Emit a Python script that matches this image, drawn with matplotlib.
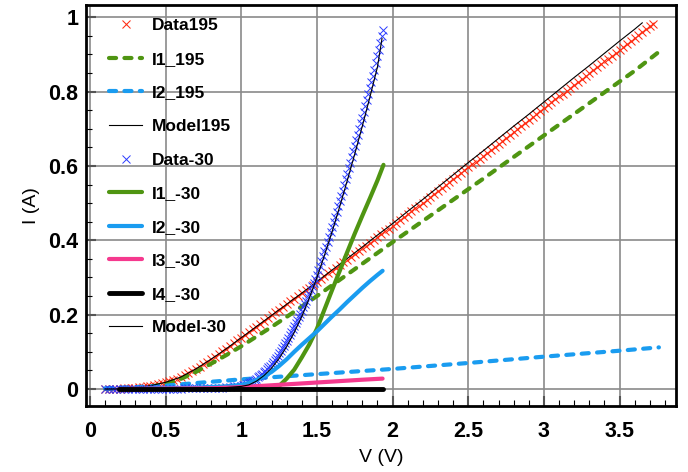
import matplotlib
matplotlib.use("Agg")
import matplotlib.pyplot as plt
from matplotlib.ticker import MultipleLocator

plt.rcParams['font.family'] = ['Liberation Sans', 'DejaVu Sans']

# ---------------- data ----------------
v_data195 = [0.100, 0.125, 0.150, 0.175, 0.200, 0.225, 0.250, 0.275, 0.300, 0.325, 0.350, 0.375,
             0.400, 0.425, 0.450, 0.475, 0.500, 0.525, 0.550, 0.575, 0.600, 0.625, 0.650, 0.675,
             0.700, 0.725, 0.750, 0.775, 0.800, 0.825, 0.850, 0.875, 0.900, 0.925, 0.950, 0.975,
             1.000, 1.025, 1.050, 1.075, 1.100, 1.125, 1.150, 1.175, 1.200, 1.225, 1.250, 1.275,
             1.300, 1.325, 1.350, 1.375, 1.400, 1.425, 1.450, 1.475, 1.500, 1.525, 1.550, 1.575,
             1.600, 1.625, 1.650, 1.675, 1.700, 1.725, 1.750, 1.775, 1.800, 1.825, 1.850, 1.875,
             1.900, 1.925, 1.950, 1.975, 2.000, 2.025, 2.050, 2.075, 2.100, 2.125, 2.150, 2.175,
             2.200, 2.225, 2.250, 2.275, 2.300, 2.325, 2.350, 2.375, 2.400, 2.425, 2.450, 2.475,
             2.500, 2.525, 2.550, 2.575, 2.600, 2.625, 2.650, 2.675, 2.700, 2.725, 2.750, 2.775,
             2.800, 2.825, 2.850, 2.875, 2.900, 2.925, 2.950, 2.975, 3.000, 3.025, 3.050, 3.075,
             3.100, 3.125, 3.150, 3.175, 3.200, 3.225, 3.250, 3.275, 3.300, 3.325, 3.350, 3.375,
             3.400, 3.425, 3.450, 3.475, 3.500, 3.525, 3.550, 3.575, 3.600, 3.625, 3.650, 3.675,
             3.700, 3.720]
i_data195 = [0.000, 0.000, 0.000, 0.001, 0.001, 0.002, 0.002, 0.003, 0.004, 0.005, 0.006, 0.008,
             0.009, 0.011, 0.013, 0.015, 0.018, 0.021, 0.024, 0.028, 0.032, 0.037, 0.042, 0.048,
             0.054, 0.060, 0.067, 0.073, 0.080, 0.087, 0.094, 0.101, 0.108, 0.116, 0.123, 0.131,
             0.138, 0.146, 0.153, 0.161, 0.168, 0.176, 0.183, 0.191, 0.198, 0.206, 0.213, 0.221,
             0.228, 0.236, 0.243, 0.251, 0.258, 0.266, 0.273, 0.281, 0.288, 0.296, 0.303, 0.311,
             0.318, 0.326, 0.333, 0.341, 0.348, 0.356, 0.363, 0.371, 0.378, 0.386, 0.393, 0.401,
             0.408, 0.416, 0.424, 0.431, 0.439, 0.447, 0.455, 0.462, 0.470, 0.478, 0.486, 0.493,
             0.501, 0.509, 0.517, 0.525, 0.533, 0.541, 0.549, 0.557, 0.565, 0.572, 0.580, 0.588,
             0.596, 0.604, 0.612, 0.620, 0.628, 0.636, 0.644, 0.652, 0.660, 0.667, 0.675, 0.683,
             0.691, 0.699, 0.707, 0.715, 0.723, 0.731, 0.739, 0.747, 0.755, 0.763, 0.771, 0.779,
             0.787, 0.794, 0.802, 0.810, 0.818, 0.826, 0.834, 0.842, 0.850, 0.858, 0.866, 0.874,
             0.882, 0.889, 0.897, 0.905, 0.913, 0.921, 0.929, 0.937, 0.945, 0.953, 0.961, 0.969,
             0.977, 0.983]

v_i1_195 = [0.1, 0.2, 0.3, 0.4, 0.5, 0.6, 0.7, 0.8, 0.9, 1.0, 1.1, 1.2, 1.3, 1.4, 1.5, 1.6,
            1.7, 1.8, 1.9, 2.0, 2.2, 2.4, 2.6, 2.8, 3.0, 3.2, 3.4, 3.6, 3.76]
i_i1_195 = [0.000, 0.000, 0.002, 0.006, 0.014, 0.027, 0.046, 0.068, 0.091, 0.115, 0.141, 0.167,
            0.194, 0.222, 0.250, 0.279, 0.308, 0.337, 0.366, 0.395, 0.452, 0.509, 0.566, 0.624,
            0.682, 0.740, 0.798, 0.856, 0.907]

v_i2_195 = [0.1, 0.3, 0.5, 0.7, 1.0, 1.5, 2.0, 2.5, 3.0, 3.5, 3.76]
i_i2_195 = [0.002, 0.005, 0.009, 0.016, 0.026, 0.040, 0.054, 0.070, 0.087, 0.103, 0.112]

v_model195 = [0.1, 0.2, 0.3, 0.4, 0.5, 0.6, 0.7, 0.8, 0.9, 1.0, 1.1, 1.2, 1.3, 1.4, 1.5, 1.6,
              1.7, 1.8, 1.9, 2.0, 2.1, 2.2, 2.3, 2.4, 2.5, 2.6, 2.7, 2.8, 2.9, 3.0, 3.1, 3.2,
              3.3, 3.4, 3.5, 3.6, 3.65]
i_model195 = [0.000, 0.001, 0.004, 0.009, 0.018, 0.032, 0.054, 0.080, 0.108, 0.138, 0.168,
              0.198, 0.228, 0.258, 0.289, 0.320, 0.351, 0.382, 0.414, 0.445, 0.478, 0.510,
              0.543, 0.576, 0.609, 0.641, 0.674, 0.707, 0.739, 0.772, 0.805, 0.838, 0.870,
              0.903, 0.936, 0.968, 0.985]

v_data30 = [0.100, 0.125, 0.150, 0.175, 0.200, 0.225, 0.250, 0.275, 0.300, 0.325, 0.350, 0.375,
            0.400, 0.425, 0.450, 0.475, 0.500, 0.525, 0.550, 0.575, 0.600, 0.625, 0.650, 0.675,
            0.700, 0.725, 0.750, 0.775, 0.800, 0.825, 0.850, 0.875, 0.900, 0.925, 0.950, 0.975,
            1.00, 1.01, 1.02, 1.03, 1.04, 1.05, 1.06, 1.07, 1.08, 1.09, 1.10, 1.11, 1.12, 1.13,
            1.14, 1.15, 1.16, 1.17, 1.18, 1.19, 1.20, 1.21, 1.22, 1.23, 1.24, 1.25, 1.26, 1.27,
            1.28, 1.29, 1.30, 1.31, 1.32, 1.33, 1.34, 1.35, 1.36, 1.37, 1.38, 1.39, 1.40, 1.41,
            1.42, 1.43, 1.44, 1.45, 1.46, 1.47, 1.48, 1.49, 1.50, 1.51, 1.52, 1.53, 1.54, 1.55,
            1.56, 1.57, 1.58, 1.59, 1.60, 1.61, 1.62, 1.63, 1.64, 1.65, 1.66, 1.67, 1.68, 1.69,
            1.70, 1.71, 1.72, 1.73, 1.74, 1.75, 1.76, 1.77, 1.78, 1.79, 1.80, 1.81, 1.82, 1.83,
            1.84, 1.85, 1.86, 1.87, 1.88, 1.89, 1.90, 1.91, 1.92, 1.93, 1.935]
i_data30 = [0.000, 0.000, 0.000, 0.000, 0.000, 0.000, 0.000, 0.000, 0.000, 0.000, 0.000, 0.000,
            0.000, 0.000, 0.001, 0.001, 0.001, 0.001, 0.001, 0.001, 0.001, 0.002, 0.002, 0.002,
            0.002, 0.003, 0.003, 0.003, 0.003, 0.004, 0.004, 0.004, 0.005, 0.006, 0.007, 0.008,
            0.009, 0.010, 0.011, 0.012, 0.014, 0.016, 0.018, 0.020, 0.022, 0.025, 0.028, 0.031,
            0.034, 0.037, 0.041, 0.045, 0.049, 0.053, 0.058, 0.063, 0.068, 0.073, 0.078, 0.084,
            0.090, 0.096, 0.103, 0.109, 0.116, 0.123, 0.130, 0.137, 0.145, 0.153, 0.161, 0.169,
            0.177, 0.185, 0.194, 0.202, 0.211, 0.220, 0.229, 0.238, 0.247, 0.256, 0.266, 0.276,
            0.286, 0.297, 0.308, 0.319, 0.331, 0.344, 0.357, 0.370, 0.383, 0.396, 0.409, 0.422,
            0.435, 0.449, 0.463, 0.477, 0.491, 0.505, 0.520, 0.534, 0.549, 0.564, 0.579, 0.594,
            0.609, 0.624, 0.639, 0.654, 0.669, 0.684, 0.699, 0.715, 0.730, 0.746, 0.762, 0.778,
            0.794, 0.810, 0.826, 0.842, 0.858, 0.876, 0.895, 0.912, 0.930, 0.950, 0.965]

v_i1_30 = [1.20, 1.25, 1.30, 1.35, 1.40, 1.45, 1.50, 1.55, 1.60, 1.65, 1.70, 1.75, 1.80, 1.85,
           1.90, 1.94]
i_i1_30 = [0.000, 0.008, 0.028, 0.052, 0.085, 0.120, 0.162, 0.214, 0.266, 0.317, 0.368, 0.418,
           0.466, 0.513, 0.561, 0.603]

v_i2_30 = [0.2, 0.6, 0.9, 1.0, 1.05, 1.1, 1.15, 1.2, 1.25, 1.3, 1.35, 1.4, 1.45, 1.5, 1.55,
           1.6, 1.65, 1.7, 1.75, 1.8, 1.85, 1.9, 1.934]
i_i2_30 = [0.000, 0.002, 0.007, 0.011, 0.016, 0.024, 0.034, 0.046, 0.062, 0.080, 0.100, 0.119,
           0.137, 0.155, 0.175, 0.195, 0.214, 0.234, 0.253, 0.272, 0.290, 0.307, 0.318]

v_i3_30 = [0.2, 0.8, 1.0, 1.2, 1.4, 1.6, 1.8, 1.934]
i_i3_30 = [0.000, 0.002, 0.005, 0.010, 0.015, 0.020, 0.025, 0.028]

v_i4_30 = [0.194, 0.6, 1.0, 1.4, 1.94]
i_i4_30 = [0.0, 0.0, 0.0, 0.0, 0.0]

v_model30 = [0.1, 0.3, 0.5, 0.7, 0.8, 0.9, 1.0, 1.05, 1.1, 1.15, 1.2, 1.25, 1.3, 1.35, 1.4,
             1.45, 1.5, 1.55, 1.6, 1.65, 1.7, 1.75, 1.8, 1.85, 1.9, 1.93]
i_model30 = [0.000, 0.000, 0.001, 0.002, 0.003, 0.004, 0.007, 0.011, 0.021, 0.036, 0.056, 0.082,
             0.114, 0.152, 0.195, 0.245, 0.300, 0.360, 0.423, 0.490, 0.560, 0.632, 0.707, 0.785,
             0.866, 0.943]

labels = ["Data195", "I1_195", "I2_195", "Model195", "Data-30",
          "I1_-30", "I2_-30", "I3_-30", "I4_-30", "Model-30"]
x_ticks = [0, 0.5, 1, 1.5, 2, 2.5, 3, 3.5]
x_ticklabels = ['0', '0.5', '1', '1.5', '2', '2.5', '3', '3.5']
y_ticks = [0, 0.2, 0.4, 0.6, 0.8, 1.0]
y_ticklabels = ['0', '0.2', '0.4', '0.6', '0.8', '1']

# ---------------- figure ----------------
fig = plt.figure(figsize=(6.88, 4.72), dpi=100)
ax = fig.add_axes([86 / 688, 1 - 406 / 472, 590 / 688, 401 / 472])

green = '#4f9512'
lblue = '#1a9cf0'
pink = '#f5398e'
dash = (0, (1.7, 2.0))

ax.plot(v_data195, i_data195, linestyle='none', marker='x', color='#ff2a10',
        markersize=5.8, markeredgewidth=0.75, label=labels[0])
ax.plot(v_i1_195, i_i1_195, linestyle=dash, color=green, lw=3,
        dash_capstyle='round', label=labels[1])
ax.plot(v_i2_195, i_i2_195, linestyle=dash, color=lblue, lw=3,
        dash_capstyle='round', label=labels[2])
ax.plot(v_model195, i_model195, color='black', lw=0.8, label=labels[3])
ax.plot(v_data30, i_data30, linestyle='none', marker='x', color='#2a3cff',
        markersize=5.5, markeredgewidth=0.7, label=labels[4])
ax.plot(v_i1_30, i_i1_30, color=green, lw=3, solid_capstyle='round', label=labels[5])
ax.plot(v_i2_30, i_i2_30, color=lblue, lw=3, solid_capstyle='round', label=labels[6])
ax.plot(v_i3_30, i_i3_30, color=pink, lw=3, solid_capstyle='round', label=labels[7])
ax.plot(v_i4_30, i_i4_30, color='black', lw=3.5, solid_capstyle='round', label=labels[8])
ax.plot(v_model30, i_model30, color='black', lw=0.8, label=labels[9])

ax.set_xlim(-0.026, 3.873)
ax.set_ylim(-0.0457, 1.033)

ax.xaxis.set_minor_locator(MultipleLocator(0.1))
ax.yaxis.set_minor_locator(MultipleLocator(0.05))
ax.set_xticks(x_ticks)
ax.set_xticklabels(x_ticklabels)
ax.set_yticks(y_ticks)
ax.set_yticklabels(y_ticklabels)

ax.grid(True, which='major', color='#8a8a8a', lw=1.2)
ax.set_axisbelow(True)

ax.tick_params(which='both', direction='in', top=False, right=False)
ax.tick_params(which='major', length=7, width=1.5, color='#555555', labelsize=15.5)
ax.tick_params(axis='x', which='major', pad=11)
ax.tick_params(axis='y', which='major', pad=5.5)
ax.tick_params(which='minor', length=4, width=0.8, color='black')
for lab in ax.get_xticklabels() + ax.get_yticklabels():
    lab.set_fontweight('bold')

for s in ax.spines.values():
    s.set_linewidth(2)

ax.set_xlabel('V (V)', fontsize=14, labelpad=5)
ax.set_ylabel('I (A)', fontsize=14, labelpad=6)

leg = ax.legend(loc='upper left', bbox_to_anchor=(0.039, 0.967), frameon=False,
                numpoints=1, handlelength=1.9, handletextpad=0.55, labelspacing=1.06,
                borderpad=0, borderaxespad=0, prop={'weight': 'bold', 'size': 12.5})

fig.savefig('out.png', dpi=100)
